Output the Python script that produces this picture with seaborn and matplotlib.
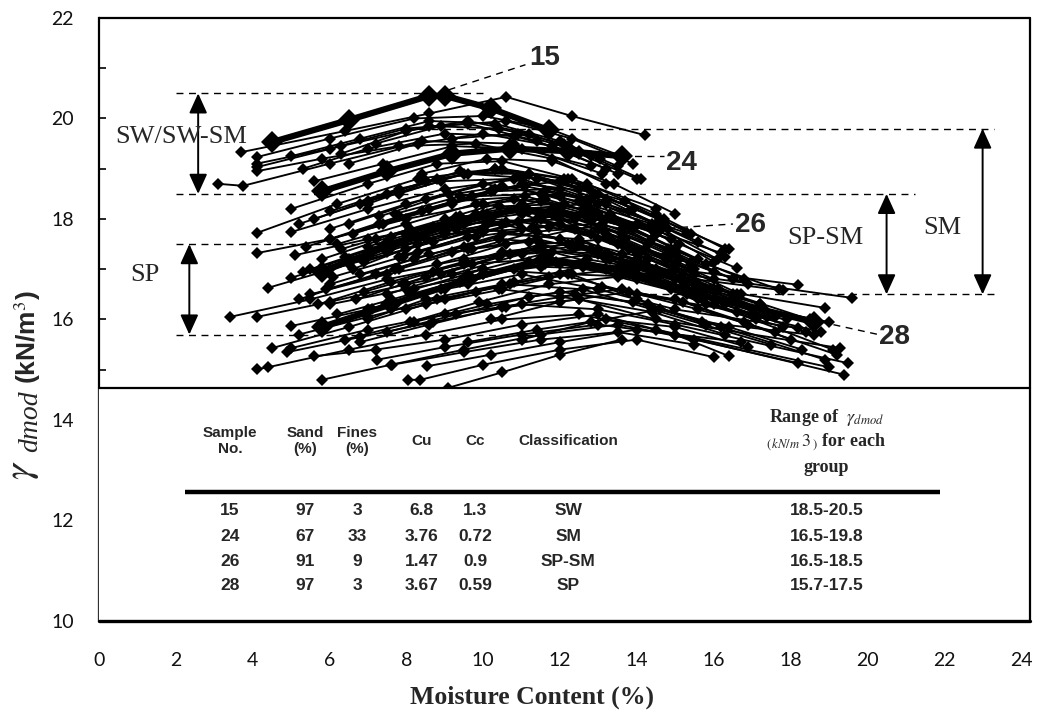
import matplotlib
matplotlib.use("Agg")
import matplotlib.pyplot as plt
import pandas as pd
import seaborn as sns
from matplotlib import font_manager
from matplotlib.ticker import MultipleLocator

sns.set_theme(style="white")
plt.rcParams["font.family"] = ["Lato", "DejaVu Sans"]
plt.rcParams["mathtext.fontset"] = "stix"

# ---- compaction curves: moisture content (%) and modified dry unit weight (kN/m3) ----
# SW / SW-SM samples
moist_sw = [
    [3.7, 6.4, 8.6, 10.6, 12.3, 14.2],
    [4.1, 6.0, 8.2, 10.0, 11.7, 13.6],
    [4.1, 6.3, 8.6, 10.4, 12.1, 13.05],
    [3.1, 3.75, 6.0, 8.4, 10.8, 13.1],
    [4.1, 6.0, 8.0, 9.6, 11.4, 13.2],
    [5.0, 6.8, 8.6, 10.3, 12.0, 13.5],
    [5.3, 7.0, 9.0, 10.8, 12.5, 14.0],
    [6.3, 8.0, 9.6, 11.2, 12.8],
    [4.1, 5.8, 7.8, 9.8, 11.8, 13.2],
    [6.5, 8.3, 10.0, 11.8, 13.5],
    [7.2, 8.9, 10.6, 12.3, 13.9],
    [5.6, 7.4, 9.2, 11.0, 12.8],
    [9.2, 10.9, 12.5, 14.1],
]
dens_sw = [
    [19.33, 19.75, 20.1, 20.43, 20.05, 19.67],
    [19.23, 19.6, 20.0, 20.05, 19.8, 19.25],
    [19.03, 19.45, 19.85, 19.8, 19.5, 19.2],
    [18.7, 18.66, 19.1, 19.55, 19.5, 18.9],
    [19.1, 19.4, 19.8, 19.9, 19.55, 19.0],
    [19.25, 19.6, 19.95, 19.9, 19.55, 19.05],
    [19.0, 19.4, 19.7, 19.65, 19.3, 18.8],
    [19.3, 19.75, 19.95, 19.7, 19.25],
    [18.95, 19.2, 19.45, 19.5, 19.2, 18.7],
    [19.1, 19.5, 19.7, 19.45, 18.9],
    [19.5, 19.85, 19.95, 19.6, 19.1],
    [18.75, 19.1, 19.45, 19.4, 19.05],
    [19.6, 19.7, 19.35, 18.8],
]
# SM samples
moist_sm = [
    [5.0, 7.0, 8.8, 10.5, 12.3, 14.5],
    [4.1, 6.2, 8.3, 10.3, 12.5, 14.7],
    [5.0, 7.0, 9.0, 11.0, 13.0, 15.3],
    [6.0, 8.0, 10.0, 12.0, 14.0, 16.2],
    [6.5, 8.5, 10.5, 12.5, 14.5, 16.6],
    [7.0, 8.8, 10.5, 12.2, 13.9],
    [5.6, 7.5, 9.4, 11.2, 13.0, 14.7],
    [7.8, 9.5, 11.2, 12.9, 14.5],
    [8.4, 10.1, 11.8, 13.4, 15.0],
    [7.3, 9.1, 10.9, 12.7, 14.5, 16.3],
    [8.6, 10.3, 12.0, 13.7, 15.4],
    [10.0, 11.6, 13.2, 14.8, 16.3],
    [9.3, 11.0, 12.7, 14.4, 16.1],
    [7.4, 9.2, 11.0, 12.8, 14.6, 16.4],
    [6.0, 7.8, 9.6, 11.4, 13.2],
    [6.8, 8.5, 10.3, 12.1, 13.9],
    [5.2, 7.0, 8.9, 10.8, 12.7],
    [7.7, 9.4, 11.1, 12.8, 14.5, 16.0],
]
dens_sm = [
    [18.2, 18.7, 19.1, 19.15, 18.8, 18.2],
    [17.72, 18.3, 18.8, 19.0, 18.6, 18.0],
    [17.74, 18.2, 18.6, 18.8, 18.3, 17.72],
    [17.8, 18.3, 18.7, 18.45, 17.9, 17.32],
    [17.9, 18.4, 18.65, 18.35, 17.7, 17.02],
    [18.3, 18.8, 19.0, 18.8, 18.2],
    [18.0, 18.5, 18.95, 18.9, 18.5, 17.95],
    [18.5, 18.9, 18.9, 18.5, 17.9],
    [18.9, 19.2, 19.15, 18.7, 18.1],
    [18.05, 18.5, 18.85, 18.7, 18.1, 17.4],
    [18.2, 18.6, 18.75, 18.35, 17.7],
    [18.3, 18.55, 18.3, 17.8, 17.25],
    [17.8, 18.2, 18.3, 17.9, 17.2],
    [17.9, 18.3, 18.7, 18.55, 18.0, 17.4],
    [18.15, 18.6, 18.9, 18.8, 18.35],
    [18.3, 18.75, 19.0, 18.8, 18.2],
    [17.9, 18.35, 18.75, 18.8, 18.4],
    [18.1, 18.45, 18.65, 18.4, 17.8, 17.15],
]
# SP-SM samples
moist_spsm = [
    [4.1, 6.0, 8.0, 10.0, 12.0, 14.0, 16.6],
    [5.1, 7.0, 9.0, 11.0, 13.0, 15.0, 18.2],
    [4.4, 6.5, 8.5, 10.5, 12.5, 14.5, 17.8],
    [5.0, 7.0, 9.0, 11.0, 13.0, 15.2, 19.6],
    [6.0, 8.0, 10.0, 12.0, 14.0, 16.0, 18.9],
    [6.5, 8.3, 10.2, 12.0, 13.8, 15.5],
    [7.0, 9.0, 11.0, 13.0, 15.0, 16.7],
    [5.5, 7.5, 9.5, 11.5, 13.5, 15.5],
    [6.0, 8.2, 10.5, 12.5, 14.5, 16.5],
    [6.2, 8.0, 9.8, 11.6, 13.4, 15.0],
    [7.2, 9.0, 10.8, 12.6, 14.4],
    [6.8, 8.6, 10.4, 12.2, 14.0, 15.8],
    [7.5, 9.2, 11.0, 12.8, 14.6],
    [5.9, 7.8, 9.6, 11.4, 13.2, 15.0, 17.0],
    [6.3, 8.1, 10.0, 11.8, 13.6, 15.4],
    [8.0, 9.8, 11.5, 13.2, 15.0],
    [5.2, 7.2, 9.2, 11.2, 13.2, 15.3],
    [6.0, 7.8, 9.7, 11.5, 13.3, 15.1],
    [6.6, 8.4, 10.2, 12.0, 13.8, 15.6],
    [5.4, 7.3, 9.2, 11.1, 13.0, 14.9],
    [6.9, 8.7, 10.6, 12.4, 14.3, 16.0],
    [7.7, 9.5, 11.3, 13.1, 14.9, 16.8],
    [6.1, 7.9, 9.8, 11.7, 13.6, 15.4],
    [8.3, 10.0, 11.8, 13.6, 15.4],
    [8.8, 10.6, 12.4, 14.2, 16.0],
    [7.9, 9.7, 11.5, 13.3, 15.1, 16.9],
    [5.3, 7.1, 9.0, 10.9, 12.8, 14.7],
    [6.4, 8.2, 10.1, 12.0, 13.9, 15.8, 17.7],
    [12.4, 14.0, 15.6, 17.3],
    [11.5, 13.2, 14.9, 16.6, 18.8],
    [6.6, 8.3, 10.1, 11.9, 13.7, 15.5],
    [7.0, 8.7, 10.4, 12.1, 13.8, 15.6],
    [7.8, 9.6, 11.4, 13.2, 15.0],
    [5.8, 7.6, 9.4, 11.2, 13.0, 14.8],
    [8.2, 10.0, 11.8, 13.6, 15.4, 17.2],
    [6.9, 8.7, 10.5, 12.3, 14.1, 15.9],
    [7.6, 9.4, 11.2, 13.0, 14.8, 16.6],
    [8.9, 10.7, 12.5, 14.3, 16.1],
    [9.7, 11.4, 13.1, 14.8, 16.5],
]
dens_spsm = [
    [17.32, 17.6, 18.0, 18.3, 18.0, 17.3, 16.5],
    [17.28, 17.6, 17.9, 18.1, 17.6, 17.0, 16.69],
    [16.63, 17.1, 17.6, 17.9, 17.5, 16.9, 16.58],
    [16.83, 17.3, 17.7, 17.8, 17.4, 16.9, 16.43],
    [17.0, 17.4, 17.8, 17.6, 17.1, 16.6, 16.23],
    [17.2, 17.6, 18.0, 17.9, 17.4, 16.9],
    [17.3, 17.8, 18.2, 17.8, 17.1, 16.5],
    [17.0, 17.5, 17.9, 18.0, 17.5, 16.9],
    [16.7, 17.2, 17.7, 17.6, 17.0, 16.4],
    [17.5, 17.9, 18.3, 18.4, 18.0, 17.4],
    [17.6, 18.0, 18.4, 18.2, 17.6],
    [16.9, 17.3, 17.6, 17.5, 17.0, 16.6],
    [16.5, 16.9, 17.3, 17.4, 16.9],
    [16.6, 17.0, 17.4, 17.6, 17.3, 16.8, 16.2],
    [17.4, 17.8, 18.1, 18.2, 17.7, 17.1],
    [17.7, 18.1, 18.35, 18.0, 17.3],
    [16.4, 16.9, 17.35, 17.55, 17.2, 16.7],
    [17.6, 18.05, 18.45, 18.5, 18.1, 17.5],
    [17.7, 18.15, 18.55, 18.6, 18.15, 17.55],
    [17.45, 17.9, 18.35, 18.45, 18.1, 17.6],
    [17.15, 17.55, 17.95, 18.0, 17.5, 16.95],
    [17.0, 17.45, 17.85, 17.9, 17.4, 16.8],
    [16.85, 17.25, 17.65, 17.85, 17.5, 17.0],
    [17.35, 17.75, 18.1, 17.8, 17.15],
    [17.1, 17.5, 17.8, 17.4, 16.8],
    [16.7, 17.1, 17.5, 17.6, 17.2, 16.7],
    [16.95, 17.35, 17.75, 17.95, 17.7, 17.25],
    [17.25, 17.7, 18.1, 18.2, 17.8, 17.1, 16.6],
    [17.45, 17.2, 16.7, 16.2],
    [17.05, 17.0, 16.6, 16.15, 15.75],
    [17.0, 17.5, 17.9, 18.05, 17.6, 17.0],
    [17.45, 17.85, 18.25, 18.3, 17.85, 17.2],
    [17.25, 17.65, 18.0, 17.7, 17.0],
    [17.2, 17.65, 18.05, 18.15, 17.8, 17.2],
    [16.6, 17.0, 17.35, 17.3, 16.8, 16.3],
    [16.55, 16.95, 17.35, 17.5, 17.1, 16.6],
    [16.35, 16.75, 17.15, 17.3, 16.9, 16.35],
    [16.9, 17.3, 17.55, 17.2, 16.6],
    [17.4, 17.75, 17.85, 17.4, 16.8],
]
# SP samples
moist_sp = [
    [3.4, 5.5, 7.5, 9.5, 11.5, 13.5, 16.0, 19.0],
    [4.1, 6.0, 8.0, 10.0, 12.0, 14.0, 17.9],
    [5.0, 7.0, 9.0, 11.0, 13.0, 15.0, 18.2],
    [4.5, 6.5, 8.5, 10.5, 12.5, 14.5, 19.3],
    [5.0, 7.0, 9.0, 11.0, 13.0, 15.0, 19.5],
    [4.1, 4.4, 6.5, 8.5, 10.5, 12.5, 14.5, 19.0],
    [5.6, 7.2, 9.0, 11.0, 13.0, 15.0, 19.4],
    [5.8, 7.6, 9.5, 11.5, 13.5, 15.5, 18.2],
    [7.24, 9.0, 11.0, 13.0, 15.0, 16.4],
    [7.63, 9.5, 11.5, 13.5, 15.5],
    [8.05, 8.36, 10.0, 12.0, 14.0, 16.0],
    [8.54, 10.2, 12.0, 14.0, 16.7],
    [9.09, 10.5, 12.0, 13.6],
    [6.0, 8.0, 10.0, 12.0, 14.0, 16.0, 19.1],
    [5.5, 7.5, 9.5, 11.5, 13.5, 15.5, 17.0],
    [7.0, 8.5, 10.5, 12.3, 14.0, 15.8],
    [6.4, 8.2, 10.1, 12.0, 13.9, 15.7, 18.6],
    [5.2, 7.0, 8.8, 10.7, 12.6, 14.4, 17.5],
    [5.7, 7.6, 9.5, 11.4, 13.3, 15.2, 17.2],
    [6.7, 8.5, 10.4, 12.3, 14.2, 16.1],
    [7.1, 8.9, 10.8, 12.7, 14.6, 16.5, 18.5],
    [6.2, 8.1, 10.0, 11.9, 13.8, 15.7, 17.6],
    [6.8, 8.6, 10.5, 12.4, 14.3, 16.2, 18.9],
    [7.5, 9.3, 11.2, 13.1, 15.0, 16.9, 19.2],
    [8.0, 9.8, 11.7, 13.6, 15.5, 17.4],
    [9.0, 10.8, 12.6, 14.4, 16.3, 18.4],
    [10.2, 12.0, 13.8, 15.6, 17.6],
    [11.0, 12.8, 14.6, 16.4, 18.3],
    [4.9, 6.8, 8.7, 10.6, 12.5, 14.4, 16.3],
    [9.6, 11.4, 13.2, 15.0, 16.9],
    [12.0, 13.6, 15.2, 16.8, 18.0],
    [8.1, 9.9, 11.7, 13.5, 15.3, 17.1],
    [10.4, 12.2, 14.0, 15.8, 17.8],
]
dens_sp = [
    [16.05, 16.4, 16.8, 17.1, 17.2, 16.9, 16.4, 15.95],
    [16.05, 16.35, 16.7, 17.0, 16.9, 16.5, 16.0],
    [15.87, 16.2, 16.6, 16.9, 16.6, 16.2, 15.83],
    [15.43, 15.85, 16.3, 16.6, 16.4, 16.0, 15.43],
    [15.43, 15.8, 16.1, 16.3, 16.2, 15.9, 15.13],
    [15.01, 15.05, 15.4, 15.7, 16.0, 16.1, 15.8, 15.05],
    [15.27, 15.4, 15.6, 15.9, 16.1, 15.7, 14.9],
    [14.8, 15.1, 15.4, 15.7, 15.9, 15.6, 15.13],
    [15.2, 15.45, 15.7, 15.9, 15.7, 15.27],
    [15.1, 15.35, 15.6, 15.75, 15.5],
    [14.8, 14.8, 15.1, 15.4, 15.6, 15.25],
    [15.07, 15.3, 15.55, 15.8, 15.55],
    [14.64, 14.95, 15.3, 15.6],
    [16.3, 16.6, 16.9, 17.1, 16.8, 16.3, 15.4],
    [16.5, 16.9, 17.2, 17.4, 17.0, 16.5, 16.1],
    [16.0, 16.4, 16.7, 16.9, 16.4, 15.9],
    [15.6, 15.95, 16.3, 16.55, 16.35, 15.95, 15.69],
    [15.7, 16.05, 16.4, 16.7, 16.6, 16.2, 15.5],
    [16.3, 16.75, 17.15, 17.4, 17.2, 16.75, 16.3],
    [16.4, 16.85, 17.25, 17.45, 17.1, 16.6],
    [16.2, 16.6, 17.0, 17.2, 16.95, 16.5, 16.0],
    [16.1, 16.5, 16.9, 17.15, 16.9, 16.45, 16.05],
    [15.55, 15.9, 16.25, 16.5, 16.3, 15.85, 15.2],
    [15.75, 16.1, 16.45, 16.65, 16.4, 15.9, 15.3],
    [16.2, 16.55, 16.85, 17.0, 16.6, 16.05],
    [16.4, 16.75, 17.05, 16.9, 16.3, 15.75],
    [16.0, 16.35, 16.55, 16.2, 15.75],
    [15.6, 15.95, 16.2, 15.85, 15.4],
    [15.35, 15.65, 15.95, 16.25, 16.4, 16.15, 15.7],
    [15.55, 15.8, 16.0, 15.85, 15.45],
    [16.45, 16.6, 16.35, 15.95, 15.6],
    [15.95, 16.35, 16.7, 16.85, 16.5, 16.0],
    [16.6, 16.9, 16.85, 16.3, 15.85],
]

# highlighted samples 15, 24, 26, 28
moist_15 = [4.5, 6.5, 8.6, 9.0, 10.2, 11.7]
dens_15 = [19.53, 19.97, 20.45, 20.45, 20.2, 19.77]
moist_24 = [5.8, 7.5, 9.2, 10.7, 12.2, 13.6]
dens_24 = [18.55, 18.95, 19.3, 19.4, 19.35, 19.25]
moist_26 = [5.8, 7.5, 9.3, 11.0, 12.8, 14.5]
dens_26 = [16.95, 17.45, 17.95, 18.2, 18.05, 17.8]
moist_28 = [5.8, 7.6, 9.6, 11.6, 13.6, 15.6, 18.6]
dens_28 = [15.85, 16.3, 16.8, 17.2, 17.0, 16.5, 15.95]

# group ranges of the dry unit weight
range_sw = (18.5, 20.5)
range_sm = (16.5, 19.8)
range_spsm = (16.5, 18.5)
range_sp = (15.7, 17.5)

# properties table
table_cols = ["Sample\nNo.", "Sand\n(%)", "Fines\n(%)", "Cu", "Cc", "Classification"]
sample_no = ["15", "24", "26", "28"]
sand_pct = ["97", "67", "91", "97"]
fines_pct = ["3", "33", "9", "3"]
cu_vals = ["6.8", "3.76", "1.47", "3.67"]
cc_vals = ["1.3", "0.72", "0.9", "0.59"]
classes = ["SW", "SM", "SP-SM", "SP"]
ranges = ["18.5-20.5", "16.5-19.8", "16.5-18.5", "15.7-17.5"]


def long_form(tag, moist, dens):
    rows = []
    for i, (m, d) in enumerate(zip(moist, dens)):
        for x, y in zip(m, d):
            rows.append((f"{tag}{i}", x, y))
    return rows


rows = (long_form("sw", moist_sw, dens_sw) + long_form("sm", moist_sm, dens_sm)
        + long_form("spsm", moist_spsm, dens_spsm) + long_form("sp", moist_sp, dens_sp))
curves = pd.DataFrame(rows, columns=["curve", "moisture", "density"])

hi_rows = (long_form("s15_", [moist_15], [dens_15]) + long_form("s24_", [moist_24], [dens_24])
           + long_form("s26_", [moist_26], [dens_26]) + long_form("s28_", [moist_28], [dens_28]))
highlight = pd.DataFrame(hi_rows, columns=["curve", "moisture", "density"])

# narrow bold face for the table when available
installed = {f.name for f in font_manager.fontManager.ttflist}
if "Liberation Sans Narrow" in installed:
    tbl_family, cell_size, hdr_size = "Liberation Sans Narrow", 14, 12
else:
    tbl_family, cell_size, hdr_size = "Liberation Sans", 12.5, 11

fig = plt.figure(figsize=(10.47, 7.11), dpi=100)
ax = fig.add_axes([0.0946, 0.1266, 0.8806, 0.8481])

XR = 24.24  # right edge of the frame

# dashed group boundaries
dash = dict(color="black", lw=1.0, ls=(0, (5, 4)), zorder=1)
ax.plot([2.0, 10.0], [20.5, 20.5], **dash)
ax.plot([8.0, 23.3], [19.8, 19.8], **dash)
ax.plot([2.0, 21.25], [18.5, 18.5], **dash)
ax.plot([2.0, 8.5], [17.5, 17.5], **dash)
ax.plot([14.0, 23.3], [16.5, 16.5], **dash)
ax.plot([2.0, 11.5], [15.7, 15.7], **dash)

sns.lineplot(data=curves, x="moisture", y="density", units="curve", estimator=None,
             sort=False, color="black", linewidth=1.35, marker="D", markersize=6.5,
             markeredgewidth=0, legend=False, ax=ax, zorder=2)
sns.lineplot(data=highlight, x="moisture", y="density", units="curve", estimator=None,
             sort=False, color="black", linewidth=4.5, marker="D", markersize=11,
             markeredgewidth=0, legend=False, ax=ax, zorder=2.5)

# leader lines to sample numbers
lead = dict(color="black", lw=1.0, ls=(0, (5, 4)), zorder=2.6)
ax.plot([moist_15[3] + 0.1, 11.1], [dens_15[3] + 0.12, 21.07], **lead)
ax.plot([moist_24[-1], 14.7], [dens_24[-1], 19.25], **lead)
ax.plot([moist_26[-1], 16.5], [dens_26[-1], 17.9], **lead)
ax.plot([moist_28[-1] + 0.2, 20.35], [dens_28[-1], 15.69], **lead)
num_font = dict(family="Liberation Sans", fontsize=20, fontweight="bold", va="center", ha="left")
ax.text(11.2, 21.2, "15", **num_font)
ax.text(14.75, 19.11, "24", **num_font)
ax.text(16.55, 17.88, "26", **num_font)
ax.text(20.3, 15.65, "28", **num_font)

# range arrows
arrow = dict(arrowstyle="<|-|>,head_length=0.55,head_width=0.25", color="black",
             lw=1.4, shrinkA=0, shrinkB=0, mutation_scale=22)
for xa, (lo, hi) in [(2.58, range_sw), (2.35, range_sp), (20.5, range_spsm), (23.0, range_sm)]:
    ax.annotate("", xy=(xa, hi), xytext=(xa, lo), arrowprops=arrow, zorder=3)
grp_font = dict(family="Liberation Serif", fontsize=19, ha="center", va="center")
ax.text(2.14, 19.63, "SW/SW-SM", **grp_font, zorder=3)
ax.text(1.2, 16.89, "SP", **grp_font)
ax.text(18.9, 17.62, "SP-SM", **grp_font)
ax.text(21.95, 17.82, "SM", **grp_font)

# inset table panel
ax.fill_between([0, XR], 10, 14.63, color="white", zorder=3, clip_on=False)
frame = dict(color="black", lw=1.6, clip_on=False, zorder=5)
ax.plot([0, XR], [14.63, 14.63], **frame)
ax.plot([0, XR], [22, 22], **frame)
ax.plot([XR, XR], [10, 22], **frame)
ax.plot([0, XR], [10, 10], color="black", lw=2.4, clip_on=False, zorder=5)

col_x = [3.41, 5.36, 6.72, 8.39, 9.79, 12.21]
hdr = dict(family=tbl_family, fontsize=hdr_size, fontweight="bold", ha="center",
           va="center", linespacing=1.2, zorder=6)
for cx, name in zip(col_x, table_cols):
    ax.text(cx, 13.58, name, **hdr)
rng_font = dict(family="Liberation Serif", fontsize=13, fontweight="bold", ha="center",
                va="center", zorder=6)
ax.text(18.93, 14.04, r"Range of  $\gamma_{dmod}$", **rng_font)
ax.text(18.93, 13.56, r"$_{(\,kN/m}\,3_{\,)}$ for each", **rng_font)
ax.text(18.93, 13.06, "group", **rng_font)
ax.plot([2.24, 21.9], [12.57, 12.57], color="black", lw=3.2, solid_capstyle="butt", zorder=6)

row_y = [12.19, 11.69, 11.19, 10.70]
cell = dict(family=tbl_family, fontsize=cell_size, fontweight="bold", ha="center",
            va="center", zorder=6)
for i, ry in enumerate(row_y):
    vals = [sample_no[i], sand_pct[i], fines_pct[i], cu_vals[i], cc_vals[i], classes[i]]
    for cx, v in zip(col_x, vals):
        ax.text(cx, ry, v, **cell)
    ax.text(18.93, ry, ranges[i], **cell)

# axes
ax.set_xlim(0, 24)
ax.set_ylim(10, 22)
ax.xaxis.set_major_locator(MultipleLocator(2))
ax.xaxis.set_minor_locator(MultipleLocator(1))
ax.yaxis.set_major_locator(MultipleLocator(2))
ax.yaxis.set_minor_locator(MultipleLocator(1))
ax.tick_params(axis="y", which="both", left=True, direction="in", length=5, width=1.2,
               color="black", labelsize=14, pad=18, labelcolor="#111111")
ax.tick_params(axis="x", which="both", bottom=True, direction="in", length=3, width=1,
               color="black", labelsize=14, pad=22, labelcolor="#111111")
for side in ["top", "right"]:
    ax.spines[side].set_visible(False)
ax.spines["left"].set_color("black")
ax.spines["left"].set_linewidth(1.6)
ax.spines["bottom"].set_visible(False)
ax.set_xlabel("")
ax.set_ylabel("")

fig.text(532 / 1047, 1 - 697 / 711, "Moisture Content (%)", family="Liberation Serif",
         fontsize=18.5, fontweight="bold", ha="center", va="center")
# y-axis title: italic gamma with lowered subscript, then the unit
ylab = dict(rotation=90, rotation_mode="anchor", ha="left", va="baseline")
fig.text(31 / 1047, 1 - 480 / 711, r"$\gamma$", fontsize=29, **ylab)
fig.text(37 / 1047, 1 - 452 / 711, "dmod", family="Liberation Serif", style="italic",
         fontsize=20, **ylab)
fig.text(36 / 1047, 1 - 384 / 711, r"(kN/m$^{3}$)", family="Liberation Sans",
         fontweight="bold", fontsize=19, **ylab)

fig.savefig("out.png", dpi=100)
